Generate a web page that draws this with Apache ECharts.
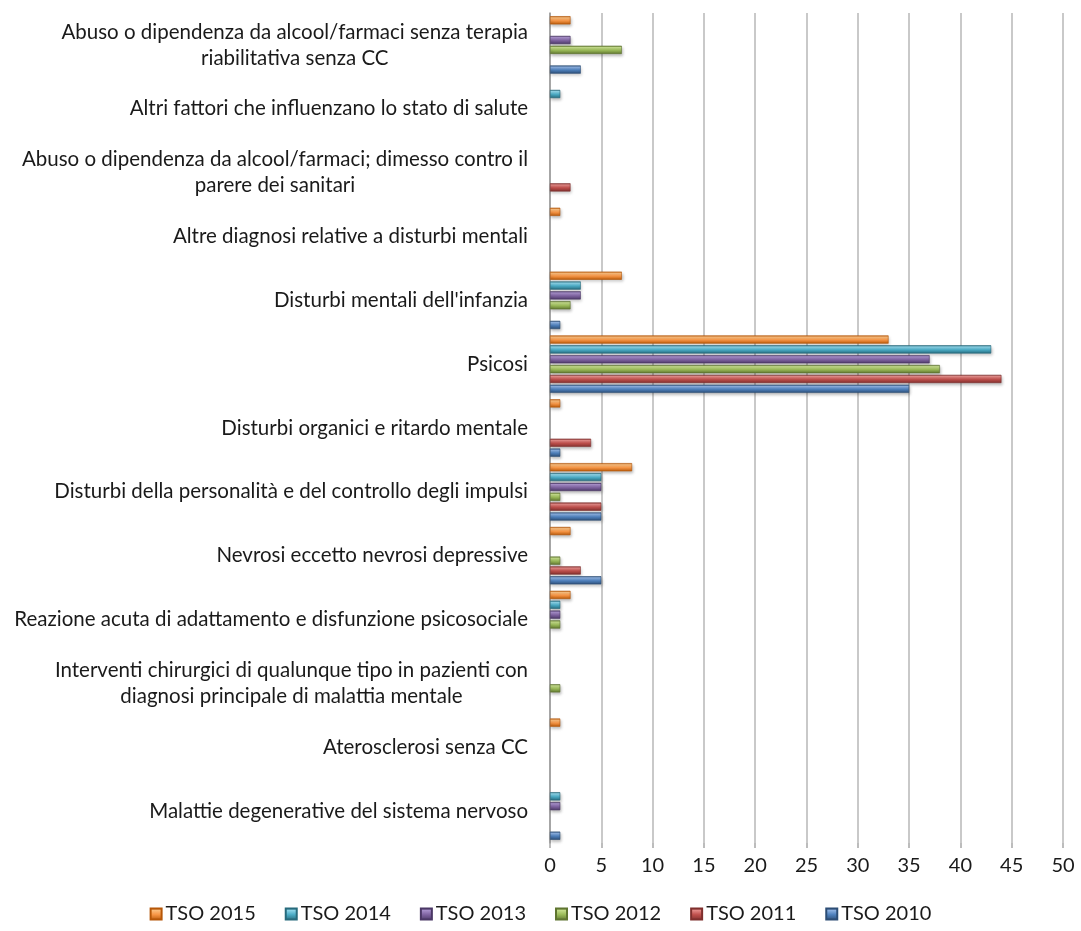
<!DOCTYPE html>
<html>
<head>
<meta charset="utf-8">
<script src="https://cdn.jsdelivr.net/npm/echarts@6/dist/echarts.min.js"></script>
<style>
	html, body { margin: 0; padding: 0; background: #fff; }
	#chart { width: 1081px; height: 931px; }
</style>
</head>
<body>
<div id="chart"></div>
<script>
// ---------- DATA (categories from bottom to top) ----------
const categories = [
	'Malattie degenerative del sistema nervoso',
	'Aterosclerosi senza CC',
	'Interventi chirurgici di qualunque tipo in pazienti con\ndiagnosi principale di malattia mentale',
	'Reazione acuta di adattamento e disfunzione psicosociale',
	'Nevrosi eccetto nevrosi depressive',
	'Disturbi della personalità e del controllo degli impulsi',
	'Disturbi organici e ritardo mentale',
	'Psicosi',
	"Disturbi mentali dell'infanzia",
	'Altre diagnosi relative a disturbi mentali',
	'Abuso o dipendenza da alcool/farmaci; dimesso contro il\nparere dei sanitari',
	'Altri fattori che influenzano lo stato di salute',
	'Abuso o dipendenza da alcool/farmaci senza terapia\nriabilitativa senza CC'
];

const tso2010 = [1, 0, 0, 0, 5, 5, 1, 35, 1, 0, 0, 0, 3];
const tso2011 = [0, 0, 0, 0, 3, 5, 4, 44, 0, 0, 2, 0, 0];
const tso2012 = [0, 0, 1, 1, 1, 1, 0, 38, 2, 0, 0, 0, 7];
const tso2013 = [1, 0, 0, 1, 0, 5, 0, 37, 3, 0, 0, 0, 2];
const tso2014 = [1, 0, 0, 1, 0, 5, 0, 43, 3, 0, 0, 1, 0];
const tso2015 = [0, 1, 0, 2, 2, 8, 1, 33, 7, 1, 0, 0, 2];

// series order top -> bottom inside each group
const seriesNames = ['TSO 2015', 'TSO 2014', 'TSO 2013', 'TSO 2012', 'TSO 2011', 'TSO 2010'];
const allValues = [tso2015, tso2014, tso2013, tso2012, tso2011, tso2010];

const xTicks = { min: 0, max: 50, interval: 5 };

// ---------- STYLE ----------
const FONT = 'Lato, "Open Sans", sans-serif';
const TEXT_COLOR = '#1a1a1a';

// [light, base, dark]
const palette = [
	['#fbbf7f', '#f79646', '#b65708'],
	['#8fd6ea', '#4bacc6', '#276a7c'],
	['#a991cc', '#8064a2', '#4b3866'],
	['#c6de8c', '#9bbb59', '#5f7530'],
	['#e58c89', '#c0504d', '#7f2f2d'],
	['#8fb3e3', '#4f81bd', '#2c4d75']
];

function barColor(c) {
	return new echarts.graphic.LinearGradient(0, 0, 0, 1, [
		{ offset: 0, color: c[2] },
		{ offset: 0.2, color: c[0] },
		{ offset: 0.55, color: c[1] },
		{ offset: 1, color: c[2] }
	]);
}

const series = seriesNames.map(function (name, i) {
	return {
		name: name,
		type: 'bar',
		barGap: '20%',
		barCategoryGap: '10%',
		itemStyle: {
			color: barColor(palette[i]),
			borderColor: palette[i][2],
			borderWidth: 0.6,
			shadowColor: 'rgba(0,0,0,0.25)',
			shadowBlur: 3,
			shadowOffsetX: 1,
			shadowOffsetY: 2
		},
		emphasis: { disabled: true },
		data: allValues[i].map(v => (v === 0 ? '-' : v))
	};
});

var chart = echarts.init(document.getElementById('chart'));

let option = {
	animation: false,
	backgroundColor: '#ffffff',
	textStyle: { fontFamily: FONT },
	grid: {
		left: 550,
		right: 18,
		top: 13,
		bottom: 88,
		containLabel: false
	},
	legend: {
		data: seriesNames,
		bottom: 2,
		left: 'center',
		icon: 'rect',
		itemWidth: 11,
		itemHeight: 11,
		itemGap: 29,
		textStyle: {
			fontFamily: FONT,
			fontSize: 20,
			color: TEXT_COLOR,
			padding: [0, 0, 0, -1]
		}
	},
	xAxis: {
		type: 'value',
		min: xTicks.min,
		max: xTicks.max,
		interval: xTicks.interval,
		axisLine: { show: false },
		axisTick: {
			show: true,
			length: 5,
			lineStyle: { color: '#a6a6a6', width: 1.5 }
		},
		splitLine: {
			show: true,
			lineStyle: { color: '#b7b7b7', width: 1.5 }
		},
		axisLabel: {
			fontFamily: FONT,
			fontSize: 20,
			color: TEXT_COLOR,
			margin: 13
		}
	},
	yAxis: {
		type: 'category',
		data: categories,
		axisLine: {
			show: true,
			lineStyle: { color: '#9a9a9a', width: 1.5 }
		},
		axisTick: { show: false },
		axisLabel: {
			fontFamily: FONT,
			fontSize: 20.5,
			color: TEXT_COLOR,
			margin: 22,
			lineHeight: 26,
			formatter: function (v) {
				if (v.indexOf('\n') < 0) return v;
				return v.split('\n').map(s => '{c|' + s + '}').join('\n');
			},
			rich: {
				c: {
					align: 'center',
					fontFamily: FONT,
					fontSize: 20.5,
					color: TEXT_COLOR,
					lineHeight: 26
				}
			}
		}
	},
	series: series
};

chart.setOption(option);
</script>
</body>
</html>
